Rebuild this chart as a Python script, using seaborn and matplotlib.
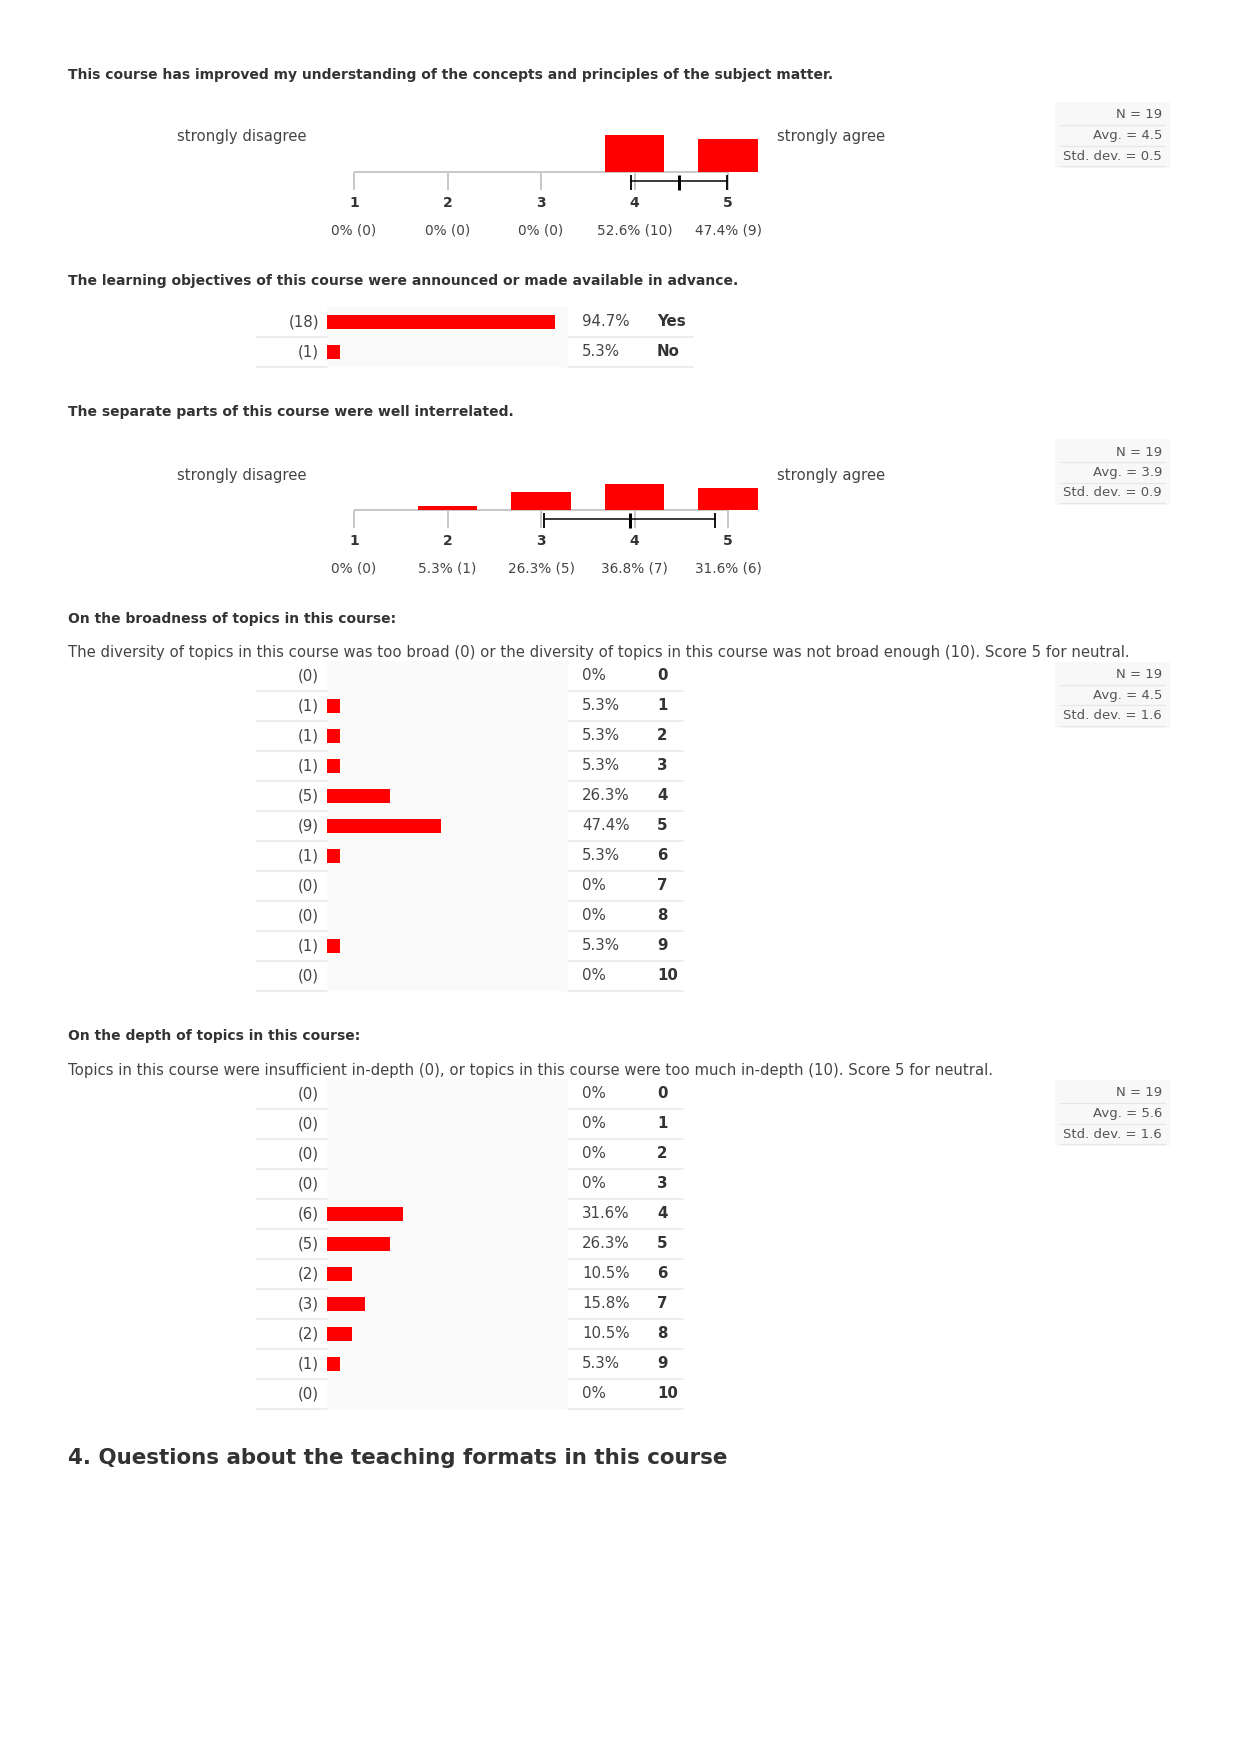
import matplotlib
matplotlib.use('Agg')
import matplotlib.pyplot as plt
import seaborn as sns
import pandas as pd
import numpy as np

# --- data ---
scale_labels = ['1', '2', '3', '4', '5']

q1_title = 'This course has improved my understanding of the concepts and principles of the subject matter.'
q1_counts = [0, 0, 0, 10, 9]
q1_pcts = [0, 0, 0, 52.6, 47.4]
q1_stats = ['N = 19', 'Avg. = 4.5', 'Std. dev. = 0.5']

q2_title = 'The learning objectives of this course were announced or made available in advance.'
q2_options = ['Yes', 'No']
q2_counts = [18, 1]
q2_pcts = [94.7, 5.3]

q3_title = 'The separate parts of this course were well interrelated.'
q3_counts = [0, 1, 5, 7, 6]
q3_pcts = [0, 5.3, 26.3, 36.8, 31.6]
q3_stats = ['N = 19', 'Avg. = 3.9', 'Std. dev. = 0.9']

q4_title = 'On the broadness of topics in this course:'
q4_desc = ('The diversity of topics in this course was too broad (0) or the diversity of topics '
           'in this course was not broad enough (10). Score 5 for neutral.')
q4_options = [str(i) for i in range(11)]
q4_counts = [0, 1, 1, 1, 5, 9, 1, 0, 0, 1, 0]
q4_pcts = [0, 5.3, 5.3, 5.3, 26.3, 47.4, 5.3, 0, 0, 5.3, 0]
q4_stats = ['N = 19', 'Avg. = 4.5', 'Std. dev. = 1.6']

q5_title = 'On the depth of topics in this course:'
q5_desc = ('Topics in this course were insufficient in-depth (0), or topics in this course '
           'were too much in-depth (10). Score 5 for neutral.')
q5_options = [str(i) for i in range(11)]
q5_counts = [0, 0, 0, 0, 6, 5, 2, 3, 2, 1, 0]
q5_pcts = [0, 0, 0, 0, 31.6, 26.3, 10.5, 15.8, 10.5, 5.3, 0]
q5_stats = ['N = 19', 'Avg. = 5.6', 'Std. dev. = 1.6']

section_heading = '4. Questions about the teaching formats in this course'

# --- layout helpers (pixel units, origin top-left) ---
sns.set_theme(style='white')
plt.rcParams['font.family'] = ['DejaVu Sans']

W, H = 1240, 1755
PT = 0.72  # points per pixel at dpi 100
RED = '#ff0000'
DARK = '#333333'
TXT = '#444444'

fig = plt.figure(figsize=(12.4, 17.55), dpi=100)
fig.patch.set_facecolor('white')


def fx(px):
    return px / W


def fy(py):
    return 1 - py / H


def add_ax(x0, y0, x1, y1):
    return fig.add_axes([fx(x0), fy(y1), (x1 - x0) / W, (y1 - y0) / H])


def title(y, s):
    fig.text(fx(68), fy(y), s, fontsize=10.0, fontweight='bold', color=DARK, va='center')


def desc(y, s):
    fig.text(fx(68), fy(y), s, fontsize=10.7, color=TXT, va='center')


def stats_box(top, lines):
    ax = add_ax(1055, top, 1170, top + 66)
    ax.set_facecolor('#f8f8f8')
    ax.set_xlim(0, 115)
    ax.set_ylim(66, 0)
    ax.set_xticks([])
    ax.set_yticks([])
    for s in ax.spines.values():
        s.set_visible(False)
    for i, line in enumerate(lines):
        ax.text(107, 13 + i * 20.5, line, fontsize=9.5, color='#555555', ha='right', va='center')
        ax.plot([5, 110], [23 + i * 20.5] * 2, color='#e6e6e6', lw=1.2 * PT)


def scale_chart(baseline, counts, pcts, left_lbl='strongly disagree', right_lbl='strongly agree'):
    k = 0.70  # px per percent
    unit = 93.5
    x0 = 354 - 0.6 * unit
    x1 = 728 + 0.6 * unit
    ax = add_ax(x0, baseline - 60 * k, x1, baseline + 30 * k)
    df = pd.DataFrame({'score': scale_labels, 'pct': pcts})
    sns.barplot(data=df, x='score', y='pct', order=scale_labels, color=RED,
                saturation=1, width=0.64, linewidth=0, errorbar=None, ax=ax, zorder=2)
    ax.set_xlim(-0.6, 4.6)
    ax.set_ylim(-30, 60)
    ax.axis('off')
    n = len(scale_labels)
    ax.plot([0, n - 1], [0, 0], color='#c8c8c8', lw=2 * PT, solid_capstyle='butt', zorder=1, clip_on=False)
    ax.vlines(range(n), -18 / k, 0, color='#c8c8c8', lw=2 * PT, zorder=1, clip_on=False)

    # mean +- std (sample) from the counts
    vals = np.arange(1, n + 1)
    cnt = np.array(counts)
    mean = np.average(vals, weights=cnt)
    std = np.sqrt(np.sum(cnt * (vals - mean) ** 2) / (cnt.sum() - 1))
    lo, hi = mean - std - 1, mean + std - 1
    ax.plot([lo, hi], [-8.5 / k] * 2, color='black', lw=1.5 * PT, zorder=3, clip_on=False)
    ax.vlines([lo, hi], -18 / k, -3 / k, color='black', lw=1.8 * PT, zorder=3, clip_on=False)
    ax.vlines([mean - 1], -18 / k, -3 / k, color='black', lw=3 * PT, zorder=3, clip_on=False)

    for i, (lab, c, p) in enumerate(zip(scale_labels, counts, pcts)):
        ax.annotate(lab, xy=(i, 0), xytext=(0, -31 * PT), textcoords='offset points',
                    ha='center', va='center', fontsize=10, fontweight='bold', color=DARK)
        ptxt = f'{p:g}% ({c})'
        ax.annotate(ptxt, xy=(i, 0), xytext=(0, -58 * PT), textcoords='offset points',
                    ha='center', va='center', fontsize=9.8, color=TXT)

    fig.text(fx(177), fy(baseline - 35), left_lbl, fontsize=10.7, color=TXT, va='center')
    fig.text(fx(777), fy(baseline - 35), right_lbl, fontsize=10.7, color=TXT, va='center')


def table_chart(top, options, counts, pcts, right_end):
    n = len(options)
    row_h = 30
    ax = add_ax(327, top, 568, top + n * row_h)
    df = pd.DataFrame({'opt': options, 'pct': pcts})
    sns.barplot(data=df, y='opt', x='pct', order=options, orient='h', color=RED,
                saturation=1, width=0.47, linewidth=0, errorbar=None, ax=ax)
    ax.set_xlim(0, 100)
    ax.set_ylim(n - 0.5, -0.5)
    ax.set_facecolor('#fafafa')
    ax.set_xticks([])
    ax.set_yticks([])
    ax.set_xlabel('')
    ax.set_ylabel('')
    for s in ax.spines.values():
        s.set_visible(False)
    px_per = 241 / 100
    left_x = -(327 - 256) / px_per
    right_x = 100 + (right_end - 568) / px_per
    for i in range(n):
        ax.plot([left_x, 0], [i + 0.5] * 2, color='#e8e8e8', lw=1.5 * PT, clip_on=False)
        ax.plot([100, right_x], [i + 0.5] * 2, color='#e8e8e8', lw=1.5 * PT, clip_on=False)
    for i, (opt, c, p) in enumerate(zip(options, counts, pcts)):
        ax.annotate(f'({c})', xy=(0, i), xytext=(-8 * PT, 0), textcoords='offset points',
                    ha='right', va='center', fontsize=10.8, color=TXT)
        ax.annotate(f'{p:g}%', xy=(100, i), xytext=(14 * PT, 0), textcoords='offset points',
                    ha='left', va='center', fontsize=10.8, color=TXT)
        ax.annotate(opt, xy=(100, i), xytext=(89 * PT, 0), textcoords='offset points',
                    ha='left', va='center', fontsize=10.8, fontweight='bold', color=DARK)


# --- section 1 ---
title(75, q1_title)
scale_chart(172, q1_counts, q1_pcts)
stats_box(102, q1_stats)

# --- section 2 ---
title(281, q2_title)
table_chart(307, q2_options, q2_counts, q2_pcts, 693)

# --- section 3 ---
title(412, q3_title)
scale_chart(510, q3_counts, q3_pcts)
stats_box(439, q3_stats)

# --- section 4 ---
title(619, q4_title)
desc(652, q4_desc)
table_chart(661, q4_options, q4_counts, q4_pcts, 683)
stats_box(662, q4_stats)

# --- section 5 ---
title(1036, q5_title)
desc(1071, q5_desc)
table_chart(1079, q5_options, q5_counts, q5_pcts, 683)
stats_box(1080, q5_stats)

fig.text(fx(68), fy(1458), section_heading, fontsize=15.4, fontweight='bold', color=DARK, va='center')

fig.savefig('out.png', dpi=100, facecolor='white')
